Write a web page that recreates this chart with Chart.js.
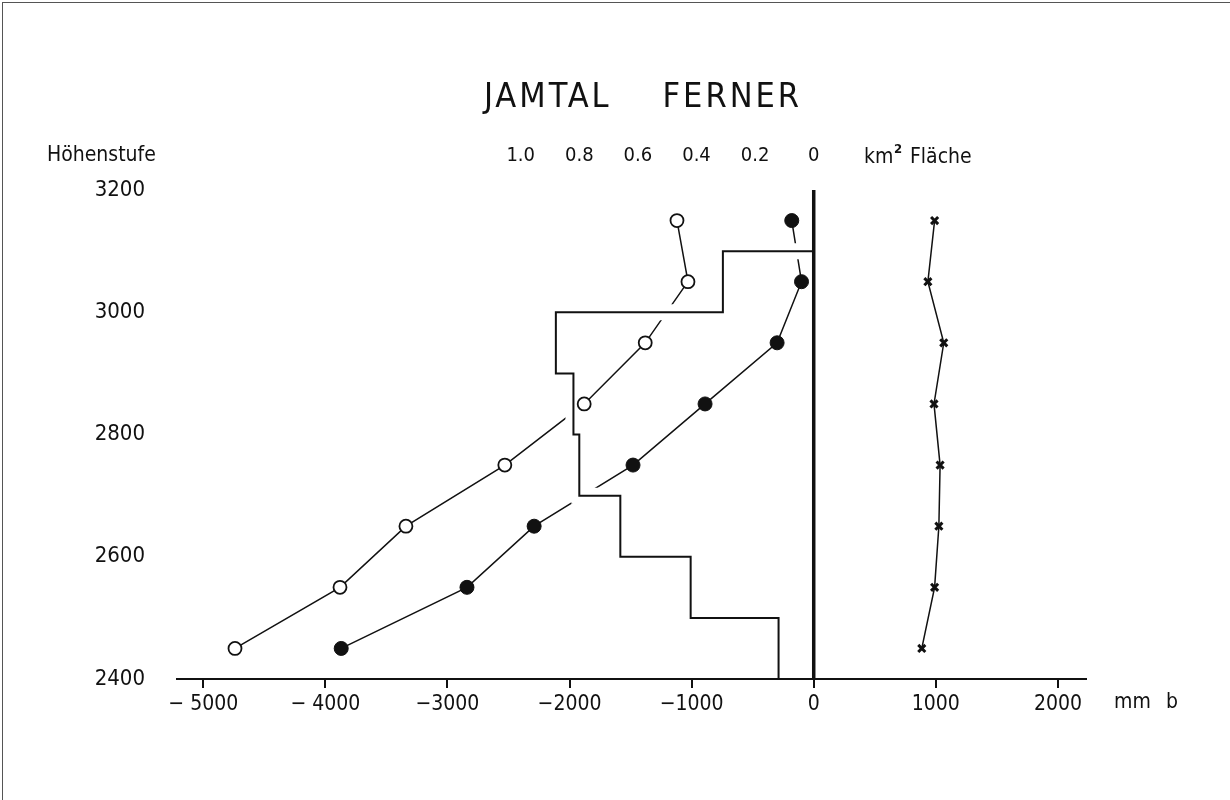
<!DOCTYPE html>
<html lang="de">
<head>
  <meta charset="UTF-8">
  <title>Jamtal Ferner</title>
  <script src="https://cdn.jsdelivr.net/npm/chart.js"></script>
  <style>
    body { margin: 0; background: #fff; }
    .frame {
      position: absolute; left: 2px; top: 2px; width: 1240px; height: 810px;
      border-top: 1px solid #555; border-left: 1px solid #555;
      pointer-events: none;
    }
    canvas { display: block; }
  </style>
</head>
<body>
<canvas id="chart" width="1230" height="800"></canvas>
<div class="frame"></div>

<script>
  // elevation band midpoints (m) and specific balance b (mm) for two years
  const ELEVATIONS = [2450, 2550, 2650, 2750, 2850, 2950, 3050, 3150];
  const B_OPEN   = [-4740, -3880, -3340, -2530, -1880, -1380, -1030, -1120];
  const B_FILLED = [-3870, -2840, -2290, -1480, -890, -300, -100, -180];
  const B_CROSS  = [885, 990, 1025, 1035, 985, 1065, 935, 990];

  // area per elevation band (km²), drawn as the step outline
  const BAND_EDGES = [2400, 2500, 2600, 2700, 2800, 2900, 3000, 3100, 3200];
  const BAND_AREA  = [0.12, 0.42, 0.66, 0.80, 0.82, 0.88, 0.31, 0];

  const X_TICKS = [-5000, -4000, -3000, -2000, -1000, 0, 1000, 2000];
  const X_TICK_LABELS = ['− 5000', '− 4000', '−3000', '−2000', '−1000', '0', '1000', '2000'];
  const AREA_TICKS = [1.0, 0.8, 0.6, 0.4, 0.2, 0];
  const Y_TICKS = [2400, 2600, 2800, 3000, 3200];

  const X_MIN = -5215, X_MAX = 2230;
  const MM_PER_KM2 = 2400; // 0.2 km² on the top scale = 480 mm on the bottom scale

  const FONT = '"DejaVu Sans Condensed", "DejaVu Sans", sans-serif';
  const INK = '#111';

  const pts = (xs) => xs.map((x, i) => ({ x: x, y: ELEVATIONS[i] }));

  const steps = [];
  BAND_AREA.forEach((a, i) => {
    steps.push({ x: a, y: BAND_EDGES[i] });
    steps.push({ x: a, y: BAND_EDGES[i + 1] });
  });

  const lineDs = (data) => ({
    data, showLine: true, borderColor: INK, borderWidth: 1.5,
    pointRadius: 0, tension: 0, order: 5
  });

  const extraText = {
    id: 'extraText',
    afterDraw(chart) {
      const ctx = chart.ctx;
      ctx.save();
      ctx.fillStyle = INK;
      ctx.textBaseline = 'middle';

      ctx.font = '34px ' + FONT;
      ctx.letterSpacing = '3px';
      ctx.textAlign = 'center';
      ctx.fillText('JAMTAL    FERNER', 643, 98);
      ctx.letterSpacing = '0px';

      ctx.textAlign = 'left';
      ctx.font = '21px ' + FONT;
      ctx.fillText('Höhenstufe', 47, 156);
      ctx.fillText('km', 864, 158);
      ctx.fillText('Fläche', 910, 158);
      ctx.font = 'bold 13px ' + FONT;
      ctx.fillText('2', 894, 150);

      ctx.font = '21px ' + FONT;
      ctx.fillText('mm', 1114, 703);
      ctx.fillText('b', 1166, 703);
      ctx.restore();
    }
  };

  new Chart(document.getElementById('chart'), {
    type: 'scatter',
    data: {
      datasets: [
        lineDs(pts(B_OPEN)),
        lineDs(pts(B_FILLED)),
        lineDs(pts(B_CROSS)),
        // white halo under the step outline, breaks the curves where they cross it
        { data: steps, xAxisID: 'xArea', showLine: true, borderColor: '#fff',
          borderWidth: 16, pointRadius: 0, tension: 0, order: 4 },
        { data: steps, xAxisID: 'xArea', showLine: true, borderColor: INK,
          borderWidth: 2, pointRadius: 0, tension: 0, order: 3 },
        // zero line
        { data: [{ x: 0, y: 2400 }, { x: 0, y: 3200 }], showLine: true,
          borderColor: INK, borderWidth: 3.5, pointRadius: 0, order: 2 },
        { data: pts(B_OPEN), pointStyle: 'circle', pointRadius: 6.5,
          pointBackgroundColor: '#fff', pointBorderColor: INK, pointBorderWidth: 1.8, order: 1 },
        { data: pts(B_FILLED), pointStyle: 'circle', pointRadius: 7,
          pointBackgroundColor: INK, pointBorderColor: INK, pointBorderWidth: 1, order: 1 },
        { data: pts(B_CROSS), pointStyle: 'crossRot', pointRadius: 5,
          pointBorderColor: INK, pointBorderWidth: 3, order: 1 }
      ]
    },
    options: {
      responsive: false,
      animation: false,
      devicePixelRatio: 1,
      layout: { padding: { right: 144 } },
      plugins: { legend: { display: false }, tooltip: { enabled: false } },
      scales: {
        x: {
          type: 'linear', position: 'bottom', min: X_MIN, max: X_MAX,
          afterBuildTicks: (s) => { s.ticks = X_TICKS.map(v => ({ value: v })); },
          afterFit: (s) => { s.height = 121; },
          grid: { drawOnChartArea: false, drawTicks: true, tickLength: 9, color: INK, lineWidth: 2 },
          border: { display: true, color: INK, width: 2, z: 1 },
          ticks: {
            autoSkip: false, maxRotation: 0, padding: 4, color: INK,
            font: { family: FONT, size: 21 },
            callback: (v, i) => X_TICK_LABELS[i]
          }
        },
        xArea: {
          type: 'linear', position: 'top', reverse: true,
          min: -X_MAX / MM_PER_KM2, max: -X_MIN / MM_PER_KM2,
          afterBuildTicks: (s) => { s.ticks = AREA_TICKS.map(v => ({ value: v })); },
          afterFit: (s) => { s.height = 190; },
          grid: { display: false, drawTicks: false },
          border: { display: false },
          ticks: {
            autoSkip: false, maxRotation: 0, padding: 22, color: INK,
            font: { family: FONT, size: 20 },
            callback: (v) => v === 0 ? '0' : v.toFixed(1)
          }
        },
        y: {
          type: 'linear', min: 2400, max: 3200,
          afterBuildTicks: (s) => { s.ticks = Y_TICKS.map(v => ({ value: v })); },
          afterFit: (s) => { s.width = 177; },
          grid: { display: false, drawTicks: false },
          border: { display: false },
          ticks: {
            padding: 32, color: INK, font: { family: FONT, size: 22 },
            callback: (v) => String(v)
          }
        }
      }
    },
    plugins: [extraText]
  });
</script>
</body>
</html>
